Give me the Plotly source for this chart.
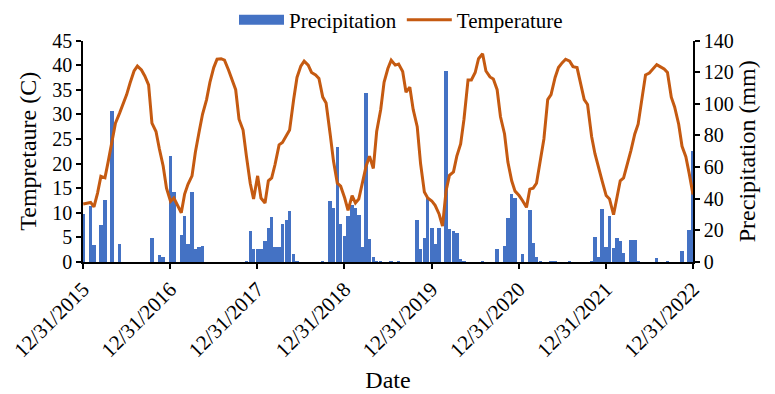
import pandas as pd
import plotly.graph_objects as go

# Semi-monthly sample dates (1st and 15th of each month) plus the final day
dates = list(pd.date_range("2016-01-01", "2022-12-16", freq="SMS")) + [pd.Timestamp("2022-12-31")]

# Temperature (C), 24 values per year (Jan1, Jan15, Feb1, ... Dec15)
temp_2016 = [11.8, 12.0, 12.1, 11.2, 14.0, 17.4, 17.1, 20.5, 24.4, 28.2, 30.2, 32.0,
             34.0, 36.3, 38.8, 39.8, 39.0, 37.8, 36.0, 28.2, 26.5, 23.0, 19.5, 15.0]
temp_2017 = [12.3, 13.0, 11.5, 10.0, 13.8, 15.8, 17.5, 22.3, 26.5, 30.0, 33.0, 36.5,
             39.5, 41.2, 41.3, 41.0, 39.0, 37.2, 35.0, 29.0, 26.8, 21.5, 16.0, 12.8]
temp_2018 = [17.5, 13.0, 12.0, 16.5, 17.1, 19.8, 23.8, 24.3, 25.5, 26.8, 33.0, 37.5,
             39.8, 40.8, 40.0, 38.5, 38.0, 37.3, 33.5, 32.3, 26.0, 20.5, 16.0, 15.4]
temp_2019 = [13.0, 10.5, 13.5, 12.0, 12.8, 16.0, 19.5, 21.5, 19.0, 26.5, 31.0, 36.5,
             39.3, 41.0, 40.0, 40.2, 38.7, 34.5, 35.5, 31.0, 27.5, 20.0, 14.2, 13.0]
temp_2020 = [12.4, 11.5, 9.7, 7.3, 14.5, 17.6, 18.3, 21.5, 24.0, 29.0, 37.0, 37.0,
             38.5, 41.3, 42.3, 38.8, 37.6, 37.2, 35.0, 29.5, 26.0, 20.3, 16.5, 14.4]
temp_2021 = [13.5, 12.5, 11.1, 14.8, 15.0, 16.0, 20.5, 25.0, 33.0, 34.0, 37.5, 39.5,
             40.5, 41.2, 40.8, 39.7, 39.5, 36.5, 33.0, 32.0, 25.5, 22.0, 18.8, 16.5]
temp_2022 = [13.5, 12.8, 9.6, 13.0, 16.5, 17.1, 20.0, 22.7, 26.0, 28.0, 33.5, 38.0,
             38.4, 39.2, 40.1, 39.7, 39.2, 38.5, 33.5, 31.5, 28.0, 23.5, 21.4, 18.0, 13.7]

# Precipitation (mm), same dates
prec_2016 = [30.7, 0, 35.5, 11.0, 0, 23.4, 39.6, 0, 96.0, 0, 12.0, 0,
             0, 0, 0, 0, 0, 0, 0, 15.4, 0, 4.8, 3.3, 0]
prec_2017 = [67.6, 44.8, 0, 17.4, 29.7, 11.6, 44.8, 8.5, 9.5, 10.6, 0, 0,
             0, 0, 0, 0, 0, 0, 0, 0, 0, 0.5, 19.9, 8.5]
prec_2018 = [8.5, 8.5, 13.3, 22.0, 28.6, 9.5, 9.5, 24.5, 26.6, 32.4, 5.4, 1.0,
             0, 0, 0, 0, 0, 0, 0.5, 0, 39.0, 34.4, 73.2, 24.5]
prec_2019 = [16.8, 29.2, 36.5, 34.4, 30.3, 9.5, 107.4, 14.7, 3.3, 0.5, 0.5, 0,
             0, 0.5, 0, 0.5, 0, 0, 0, 0, 26.6, 8.5, 15.8, 40.6]
prec_2020 = [22.0, 11.6, 22.0, 0, 120.9, 21.0, 19.9, 18.9, 2.3, 0.8, 0, 0,
             0, 0, 0.5, 0, 0, 0, 8.5, 0, 10.6, 28.2, 43.1, 40.6]
prec_2021 = [0, 5.4, 0, 33.4, 12.6, 3.3, 0.5, 0, 0, 0.5, 0.5, 0,
             0, 0, 0.5, 0, 0, 0, 0, 0, 0.5, 16.2, 3.3, 33.8]
prec_2022 = [9.5, 29.2, 9.1, 15.4, 13.7, 5.8, 0, 14.3, 14.3, 0.5, 0, 0,
             0, 0, 3.0, 0, 0, 0.5, 0, 0, 0, 7.5, 0, 20.5, 70.7]

temperature = temp_2016 + temp_2017 + temp_2018 + temp_2019 + temp_2020 + temp_2021 + temp_2022
precipitation = prec_2016 + prec_2017 + prec_2018 + prec_2019 + prec_2020 + prec_2021 + prec_2022

tick_dates = ["2015-12-31", "2016-12-31", "2017-12-31", "2018-12-31",
              "2019-12-31", "2020-12-31", "2021-12-31", "2022-12-31"]
tick_labels = ["12/31/2015", "12/31/2016", "12/31/2017", "12/31/2018",
               "12/31/2019", "12/31/2020", "12/31/2021", "12/31/2022"]

FONT = "Liberation Serif, Times New Roman, serif"
BLUE = "#4472C4"
ORANGE = "#C55A11"
OFF = 8  # the page body has an 8px default margin; compensate so the plot lands where intended

fig = go.Figure()
fig.add_trace(go.Bar(
    x=dates, y=precipitation, name="Precipitation",
    marker=dict(color=BLUE, line=dict(width=0)),
    width=14.5 * 86400000, yaxis="y", showlegend=False,
))
# legend entry for the bars (wide rectangle swatch like the original)
fig.add_trace(go.Scatter(
    x=[None], y=[None], name="Precipitation", mode="lines",
    line=dict(color=BLUE, width=12), yaxis="y",
))
fig.add_trace(go.Scatter(
    x=dates, y=temperature, name="Temperature", mode="lines",
    line=dict(color=ORANGE, width=3), yaxis="y2",
))

axis_common = dict(
    ticks="outside", ticklen=5, tickwidth=1.5, tickcolor="black",
    showline=True, linecolor="black", linewidth=1.5, showgrid=False, zeroline=False,
    automargin=False,
)

fig.update_layout(
    width=775, height=394,
    margin=dict(l=83 - OFF, r=82 + OFF, t=37 - OFF, b=132 + OFF),
    plot_bgcolor="white", paper_bgcolor="white",
    font=dict(family=FONT, size=20, color="black"),
    showlegend=True,
    legend=dict(orientation="h", xref="container", x=(401 - OFF) / 775, xanchor="center",
                yref="container", y=1 - (20 - OFF) / 394, yanchor="middle",
                font=dict(size=21), bgcolor="rgba(0,0,0,0)",
                traceorder="normal", itemwidth=45),
    bargap=0,
    xaxis=dict(
        type="date", range=["2015-12-31", "2022-12-31"],
        tickvals=tick_dates, ticktext=tick_labels, tickangle=-45,
        tickfont=dict(size=21),
        title=dict(text="Date", font=dict(size=24), standoff=10),
        **axis_common,
    ),
    yaxis=dict(
        side="right", range=[0, 140], dtick=20, tickfont=dict(size=20),
        title=dict(text="Precipitation (mm)", font=dict(size=24), standoff=1),
        **axis_common,
    ),
    yaxis2=dict(
        overlaying="y", side="left", range=[0, 45], dtick=5, tickfont=dict(size=20),
        title=dict(text="Tempretaure (C)", font=dict(size=24), standoff=9),
        **axis_common,
    ),
)

fig.write_html("out.html")
